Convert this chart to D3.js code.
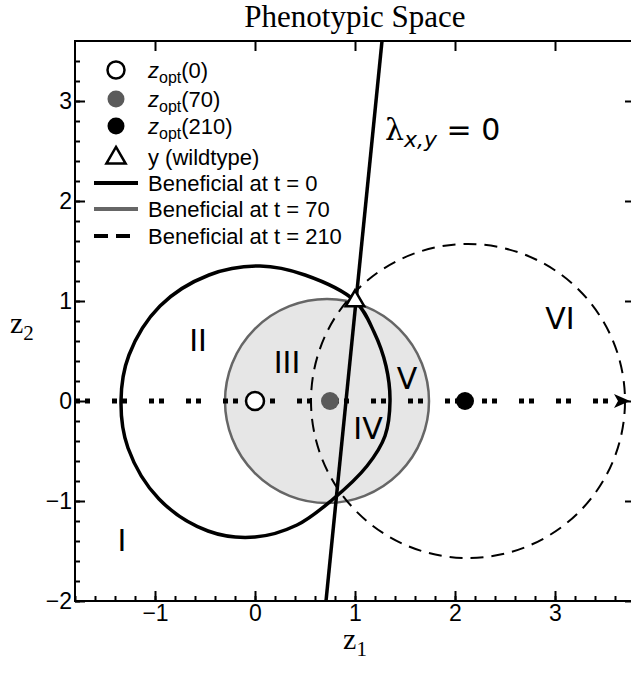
<!DOCTYPE html>
<html>
<head>
<meta charset="utf-8">
<script src="https://cdn.jsdelivr.net/npm/d3@7"></script>
<style>
  body { margin: 0; background: #fff; }
  svg { display: block; }
</style>
</head>
<body>
<div id="container"></div>
<script>
"use strict";

// optima of the fitness landscape over time
const optimumTimes = [0, 70, 210];
const optimumZ1 = [0, 0.75, 2.1];
const optimumZ2 = [0, 0, 0];

// wildtype phenotype
const wildtype = [1, 1];

// beneficial region at t = 0
const beneficialT0 = [
  [1, 1], [1.19, 0.69], [1.31, 0.35], [1.35, 0.0], [1.3, -0.35], [1.12, -0.65],
  [0.77, -0.99], [0.42, -1.24], [0, -1.36], [-0.47, -1.3], [-0.96, -0.98],
  [-1.27, -0.47], [-1.34, 0], [-1.26, 0.46], [-0.95, 0.95], [-0.46, 1.26],
  [0.05, 1.35], [0.5, 1.26]
];

// beneficial regions at t = 70 and t = 210 (circles: center z1, z2, radius)
const beneficialT70 = [0.72, 0.0, 1.02];
const beneficialT210 = [2.13, 0.0, 1.57];

// lambda_{x,y} = 0 line
const lambdaLine = [[0.71, -2], [1.27, 3.6]];

// path of the optimum
const optimumPath = [[-1.8, 0], [3.66, 0]];

// region labels
const regionNames = ["I", "II", "III", "IV", "V", "VI"];
const regionZ1 = [-1.33, -0.57, 0.32, 1.13, 1.52, 3.05];
const regionZ2 = [-1.39, 0.61, 0.39, -0.27, 0.23, 0.83];

const xTicks = [-1, 0, 1, 2, 3];
const yTicks = [-2, -1, 0, 1, 2, 3];

const legendLabels = ["(0)", "(70)", "(210)", "y (wildtype)",
  "Beneficial at t = 0", "Beneficial at t = 70", "Beneficial at t = 210"];

const width = 631;
const height = 674;

const svg = d3.select("#container")
  .append("svg")
  .attr("width", width)
  .attr("height", height);

const x = d3.scaleLinear().domain([-1.8, 3.8]).range([75, 635]);
const y = d3.scaleLinear().domain([-2, 3.6]).range([601, 41]);
const r = (v) => x(v) - x(0);

const plot = svg.append("g");

// grey region t = 70
plot.append("ellipse")
  .attr("cx", x(beneficialT70[0]))
  .attr("cy", y(beneficialT70[1]))
  .attr("rx", r(beneficialT70[2]))
  .attr("ry", r(beneficialT70[2]))
  .style("fill", "#e6e6e6")
  .style("stroke", "#666")
  .style("stroke-width", 2.5);

// optimum path (dotted)
plot.append("path")
  .attr("d", d3.line().x(d => x(d[0])).y(d => y(d[1]))(optimumPath))
  .style("fill", "none")
  .style("stroke", "#000")
  .style("stroke-width", 5)
  .style("stroke-dasharray", "5,5,5,22");

const tip = optimumPath[1];
plot.append("path")
  .attr("d", `M${x(tip[0]) + 9},${y(tip[1])} L${x(tip[0]) - 7},${y(tip[1]) - 7} L${x(tip[0]) - 3},${y(tip[1])} L${x(tip[0]) - 7},${y(tip[1]) + 7} Z`)
  .style("fill", "#000");

// t = 210 dashed circle
plot.append("ellipse")
  .attr("cx", x(beneficialT210[0]))
  .attr("cy", y(beneficialT210[1]))
  .attr("rx", r(beneficialT210[2]))
  .attr("ry", r(beneficialT210[2]))
  .style("fill", "none")
  .style("stroke", "#000")
  .style("stroke-width", 2)
  .style("stroke-dasharray", "13,8");

// t = 0 solid contour
plot.append("path")
  .attr("d", d3.line().x(d => x(d[0])).y(d => y(d[1])).curve(d3.curveCatmullRomClosed)(beneficialT0))
  .style("fill", "none")
  .style("stroke", "#000")
  .style("stroke-width", 3.5);

// lambda line
plot.append("path")
  .attr("d", d3.line().x(d => x(d[0])).y(d => y(d[1]))(lambdaLine))
  .style("fill", "none")
  .style("stroke", "#000")
  .style("stroke-width", 3.5);

plot.append("text")
  .attr("x", 385)
  .attr("y", 140)
  .style("font-family", "DejaVu Sans")
  .style("font-size", "30px")
  .call(t => {
    t.append("tspan").style("font-family", "DejaVu Serif").text("λ");
    t.append("tspan").attr("dy", 7).style("font-style", "italic").style("font-size", "22px").text("x,y");
    t.append("tspan").attr("dy", -7).text(" = 0");
  });

// region labels
plot.selectAll(".region")
  .data(regionNames)
  .enter()
  .append("text")
  .attr("x", (d, i) => x(regionZ1[i]))
  .attr("y", (d, i) => y(regionZ2[i]))
  .attr("dy", "0.36em")
  .style("text-anchor", "middle")
  .style("font-family", "DejaVu Sans")
  .style("font-size", "30px")
  .text(d => d);

// optima points
const fills = ["#fff", "#5a5a5a", "#000"];
plot.selectAll(".opt")
  .data(optimumTimes)
  .enter()
  .append("circle")
  .attr("cx", (d, i) => x(optimumZ1[i]))
  .attr("cy", (d, i) => y(optimumZ2[i]))
  .attr("r", 9)
  .style("fill", (d, i) => fills[i])
  .style("stroke", (d, i) => i === 0 ? "#000" : "none")
  .style("stroke-width", 2.5);

// wildtype triangle
plot.append("path")
  .attr("d", d3.symbol(d3.symbolTriangle, 150)())
  .attr("transform", `translate(${x(wildtype[0])},${y(wildtype[1])})`)
  .style("fill", "#fff")
  .style("stroke", "#000")
  .style("stroke-width", 2.5);

// axes
const fontAxis = (g) => g.selectAll("text")
  .style("font-family", "Liberation Sans, Arial")
  .style("font-size", "23px")
  .style("fill", "#000");
const styleAxis = (g) => {
  g.select(".domain").remove();
  g.selectAll("line").style("stroke", "#000").style("stroke-width", 2);
};

const minorX = d3.range(-9, 19).map(i => i / 5);
const minorY = d3.range(-10, 18).map(i => i / 5);

svg.append("g")
  .attr("transform", `translate(0,${y(-2)})`)
  .call(d3.axisBottom(x).tickValues(minorX).tickSize(-5).tickFormat(""))
  .call(styleAxis);
svg.append("g")
  .attr("transform", `translate(0,${y(-2)})`)
  .call(d3.axisBottom(x).tickValues(xTicks).tickSize(-10).tickPadding(4).tickFormat(d3.format("d")))
  .call(styleAxis)
  .call(fontAxis);

svg.append("g")
  .attr("transform", `translate(${x(-1.8)},0)`)
  .call(d3.axisLeft(y).tickValues(minorY).tickSize(-5).tickFormat(""))
  .call(styleAxis);
svg.append("g")
  .attr("transform", `translate(${x(-1.8)},0)`)
  .call(d3.axisLeft(y).tickValues(yTicks).tickSize(-10).tickPadding(3).tickFormat(d3.format("d")))
  .call(styleAxis)
  .call(fontAxis);

svg.append("g")
  .attr("transform", `translate(0,${y(3.6)})`)
  .call(d3.axisTop(x).tickValues(xTicks).tickSize(-10).tickFormat(""))
  .call(styleAxis);
svg.append("g")
  .attr("transform", `translate(${x(3.8)},0)`)
  .call(d3.axisRight(y).tickValues(yTicks).tickSize(-10).tickFormat(""))
  .call(styleAxis);

svg.append("rect")
  .attr("x", x(-1.8))
  .attr("y", y(3.6))
  .attr("width", x(3.8) - x(-1.8))
  .attr("height", y(-2) - y(3.6))
  .style("fill", "none")
  .style("stroke", "#000")
  .style("stroke-width", 2);

// title and axis labels
svg.append("text")
  .attr("x", (x(-1.8) + x(3.8)) / 2)
  .attr("y", 27)
  .style("text-anchor", "middle")
  .style("font-family", "Liberation Serif, Times New Roman")
  .style("font-size", "31px")
  .text("Phenotypic Space");

svg.append("text")
  .attr("x", (x(-1.8) + x(3.8)) / 2)
  .attr("y", 649)
  .style("text-anchor", "middle")
  .style("font-family", "Liberation Serif, Times New Roman")
  .style("font-size", "30px")
  .call(t => {
    t.append("tspan").text("z");
    t.append("tspan").attr("dy", 7).style("font-size", "21px").text("1");
  });

svg.append("text")
  .attr("x", 10)
  .attr("y", 333)
  .style("font-family", "Liberation Serif, Times New Roman")
  .style("font-size", "30px")
  .call(t => {
    t.append("tspan").text("z");
    t.append("tspan").attr("dy", 7).style("font-size", "21px").text("2");
  });

// legend
const legend = svg.append("g");
const rowY = [70, 99, 126, 157, 183, 209, 236];
legendLabels.forEach((label, i) => {
  const g = legend.append("g").attr("transform", `translate(0,${rowY[i]})`);
  if (i < 3) {
    g.append("circle").attr("cx", 116).attr("r", 8.5)
      .style("fill", fills[i])
      .style("stroke", i === 0 ? "#000" : "none")
      .style("stroke-width", 2.5);
  } else if (i === 3) {
    g.append("path").attr("d", d3.symbol(d3.symbolTriangle, 160)())
      .attr("transform", "translate(116,1)")
      .style("fill", "#fff").style("stroke", "#000").style("stroke-width", 2.5);
  } else {
    const styles = [["#000", null], ["#666", null], ["#000", "14,8"]][i - 4];
    g.append("line").attr("x1", 94).attr("x2", 138)
      .style("stroke", styles[0])
      .style("stroke-width", 4)
      .style("stroke-dasharray", styles[1]);
  }
  const t = g.append("text")
    .attr("x", 148)
    .attr("y", 8)
    .style("font-family", "Liberation Sans, Arial")
    .style("font-size", "22px");
  if (i < 3) {
    t.append("tspan").style("font-style", "italic").text("z");
    t.append("tspan").attr("dy", 5).style("font-size", "16px").text("opt");
    t.append("tspan").attr("dy", -5).text(label);
  } else {
    t.text(label);
  }
});
</script>
</body>
</html>
